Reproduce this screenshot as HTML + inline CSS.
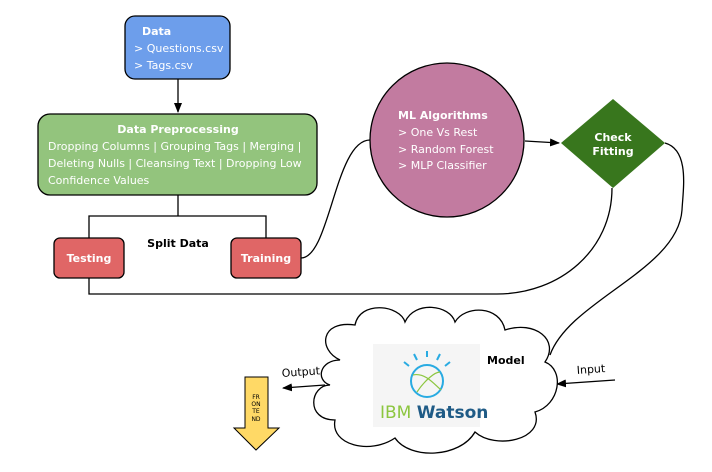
<!DOCTYPE html>
<html><head><meta charset="utf-8"><style>
html,body{margin:0;padding:0;background:#fff;width:712px;height:472px;overflow:hidden}
text{font-family:"DejaVu Sans","Liberation Sans",sans-serif}
</style></head><body>
<svg width="712" height="472" viewBox="0 0 712 472" xmlns="http://www.w3.org/2000/svg">
<defs><marker id="a" markerWidth="10" markerHeight="8" refX="9" refY="4" orient="auto" markerUnits="userSpaceOnUse"><path d="M0,0 L10,4 L0,8 z" fill="#000"/></marker></defs>
<g fill="none" stroke="#000" stroke-width="1.3">
<line x1="178" y1="79" x2="178" y2="112" marker-end="url(#a)"/>
<polyline points="178,195 178,216"/>
<polyline points="89,238 89,216 266,216 266,238"/>
<path d="M89,278 L89,294 L497,294 C560,294 612,250 612,188"/>
<path d="M301,258 C330,258 335,140 370,140"/>
<line x1="525" y1="141" x2="559" y2="143" marker-end="url(#a)"/>
<path d="M665,143 C690,150 683,190 682,210 C678,270 570,300 550,355"/>
<line x1="325" y1="385" x2="283" y2="388" marker-end="url(#a)"/>
<line x1="615" y1="380" x2="557" y2="384" marker-end="url(#a)"/>
</g>
<rect x="125" y="16" width="105" height="63" rx="10" fill="#6d9eeb" stroke="#000" stroke-width="1.3"/>
<text x="142" y="35" fill="#fff" font-size="11" font-weight="bold">Data</text>
<text x="134" y="52" fill="#fff" font-size="11">&gt; Questions.csv</text>
<text x="134" y="69" fill="#fff" font-size="11">&gt; Tags.csv</text>
<rect x="38" y="114" width="279" height="81" rx="12" fill="#93c47d" stroke="#000" stroke-width="1.3"/>
<text x="178" y="133" fill="#fff" font-size="11" font-weight="bold" text-anchor="middle">Data Preprocessing</text>
<text x="48" y="150" fill="#fff" font-size="11">Dropping Columns | Grouping Tags | Merging |</text>
<text x="48" y="167" fill="#fff" font-size="11">Deleting Nulls | Cleansing Text | Dropping Low</text>
<text x="48" y="184" fill="#fff" font-size="11">Confidence Values</text>
<rect x="54" y="238" width="70" height="40" rx="6" fill="#e06666" stroke="#000" stroke-width="1.3"/>
<text x="89" y="262" fill="#fff" font-size="11" font-weight="bold" text-anchor="middle">Testing</text>
<rect x="231" y="238" width="70" height="40" rx="6" fill="#e06666" stroke="#000" stroke-width="1.3"/>
<text x="266" y="262" fill="#fff" font-size="11" font-weight="bold" text-anchor="middle">Training</text>
<text x="178" y="247" fill="#000" font-size="11" font-weight="bold" text-anchor="middle">Split Data</text>
<circle cx="447" cy="140" r="77" fill="#c27ba0" stroke="#000" stroke-width="1.3"/>
<text x="398" y="119" fill="#fff" font-size="11" font-weight="bold">ML Algorithms</text>
<text x="398" y="136" fill="#fff" font-size="11">&gt; One Vs Rest</text>
<text x="398" y="153" fill="#fff" font-size="11">&gt; Random Forest</text>
<text x="398" y="169" fill="#fff" font-size="11">&gt; MLP Classifier</text>
<polygon points="613,99 665,143 613,188 561,143" fill="#38761d"/>
<text x="613" y="141" fill="#fff" font-size="11" font-weight="bold" text-anchor="middle">Check</text>
<text x="613" y="155" fill="#fff" font-size="11" font-weight="bold" text-anchor="middle">Fitting</text>
<path d="M340,360 C318,350 320,320 355,325 C360,300 400,305 405,322 C415,300 450,305 455,322 C465,305 500,305 505,330 C535,320 560,340 545,362 C565,370 560,405 535,412 C545,440 495,450 475,432 C460,458 410,460 395,438 C370,455 330,445 335,420 C305,420 310,385 330,385 C315,380 320,360 340,360 Z" fill="#fff" stroke="#000" stroke-width="1.3"/>
<rect x="373" y="344" width="107" height="83" fill="#f5f5f5"/>
<g stroke="#29abe2" stroke-width="2" fill="none">
<line x1="427" y1="351" x2="427" y2="357"/><line x1="414" y1="354" x2="417" y2="360"/><line x1="440" y1="354" x2="437" y2="360"/>
<line x1="404" y1="362" x2="409" y2="366"/><line x1="450" y1="362" x2="445" y2="366"/>
<circle cx="427" cy="381" r="16"/>
<path d="M413,375 C425,372 435,385 441,390 M417,392 C425,380 435,372 440,372" stroke="#8cc63f" stroke-width="1.2"/>
</g>
<text x="380" y="418" font-size="17" fill="#8cc63f" font-family="Liberation Sans">IBM <tspan fill="#1f5b86" font-weight="bold">Watson</tspan></text>
<text x="487" y="364" font-size="11" font-weight="bold" fill="#000">Model</text>
<text x="282" y="377" font-size="11" fill="#000" transform="rotate(-4 282 377)">Output</text>
<text x="577" y="374" font-size="11" fill="#000" transform="rotate(-4 577 374)">Input</text>
<polygon points="245,377 268,377 268,428 279,428 256,450 234,428 245,428" fill="#ffd966" stroke="#000" stroke-width="1"/>
<g font-size="6" fill="#000" text-anchor="middle" font-family="Liberation Sans"><text x="256" y="399">FR</text><text x="256" y="406">ON</text><text x="256" y="413">TE</text><text x="256" y="421">ND</text></g>
</svg>
</body></html>
